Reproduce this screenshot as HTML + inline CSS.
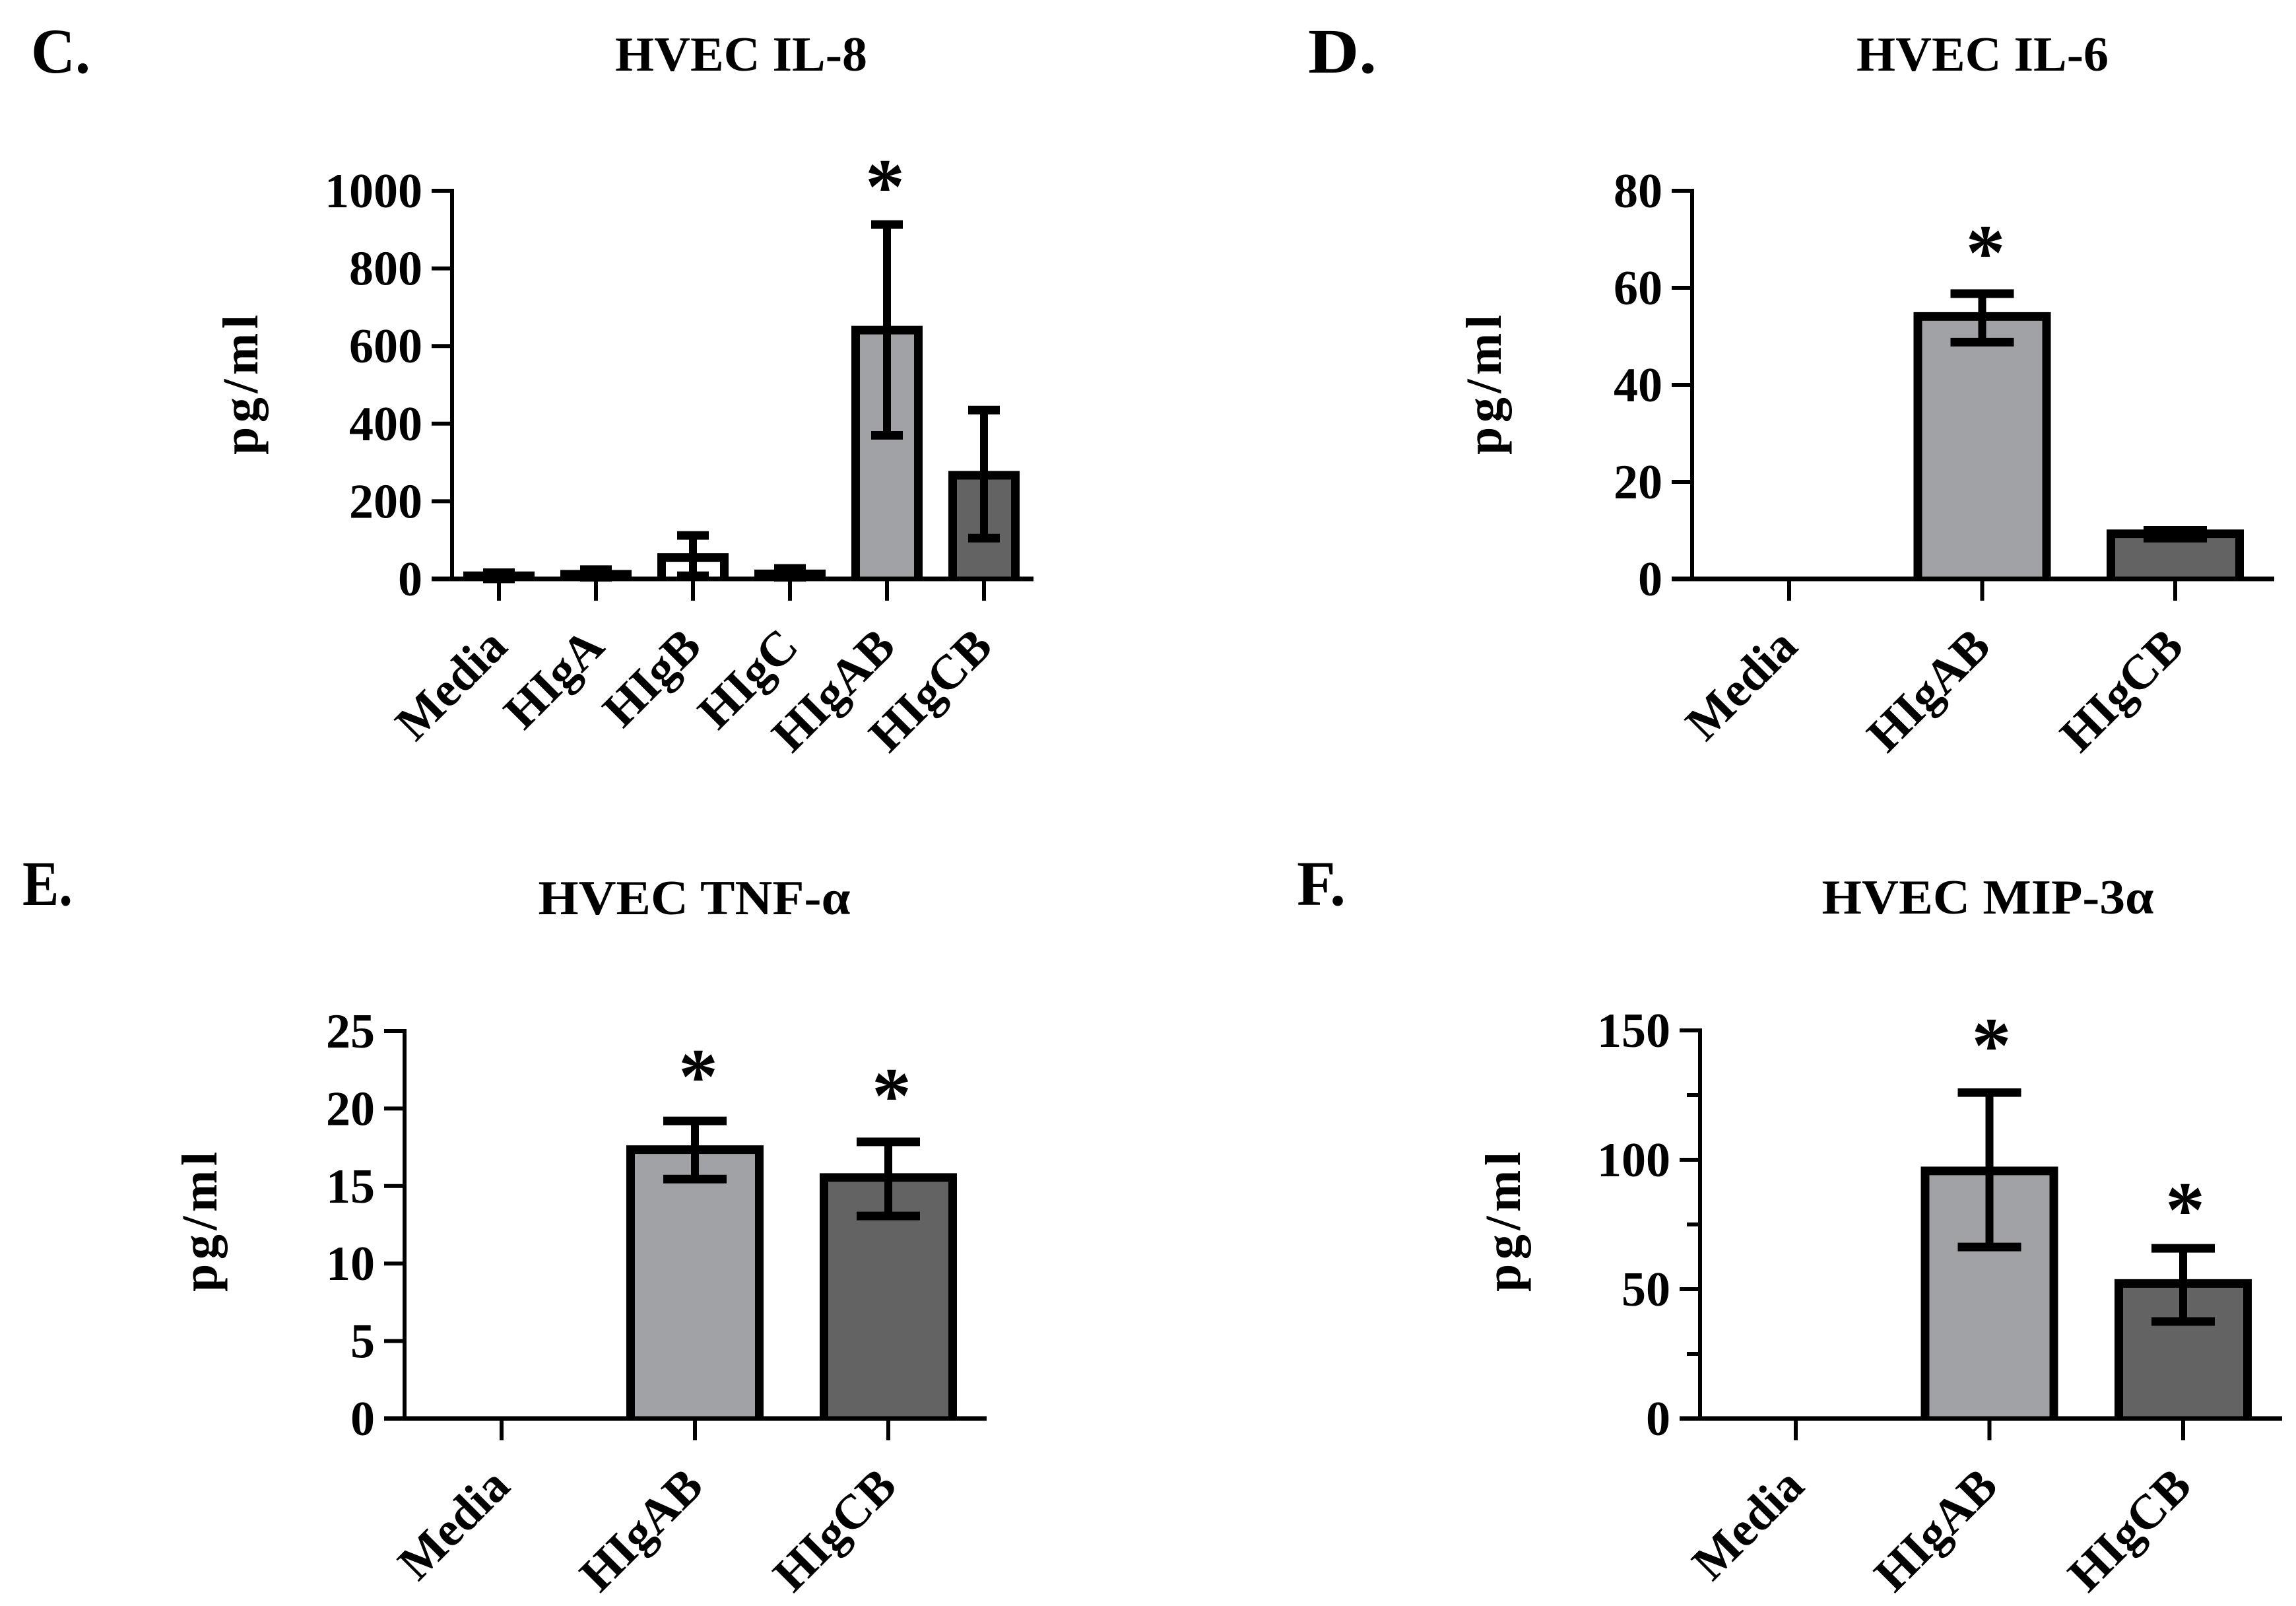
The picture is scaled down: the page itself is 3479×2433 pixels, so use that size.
<!DOCTYPE html>
<html lang="en">
<head>
<meta charset="utf-8">
<title>HVEC cytokine responses</title>
<style>
  html, body { margin: 0; padding: 0; background: #fff; }
  svg { display: block; }
  text { font-family: "Liberation Serif", serif; font-weight: bold; fill: #000; }
  .panel-letter { font-size: 96px; }
  .title { font-size: 74px; text-anchor: middle; }
  .ylabel { font-size: 76px; text-anchor: middle; }
</style>
</head>
<body>
<svg id="fig" xmlns="http://www.w3.org/2000/svg" width="3479" height="2433" viewBox="0 0 3479 2433">
  <rect width="3479" height="2433" fill="#fff"/>

  <text class="panel-letter" x="47" y="110" textLength="90" lengthAdjust="spacingAndGlyphs">C.</text>
  <text class="title" x="1123" y="107" textLength="382" lengthAdjust="spacingAndGlyphs">HVEC IL-8</text>
  <text class="ylabel" transform="translate(390 583) rotate(-90)" textLength="212">pg/ml</text>

  <text class="panel-letter" x="1982" y="110" textLength="104" lengthAdjust="spacingAndGlyphs">D.</text>
  <text class="title" x="3004" y="107" textLength="382" lengthAdjust="spacingAndGlyphs">HVEC IL-6</text>
  <text class="ylabel" transform="translate(2274 583) rotate(-90)" textLength="212">pg/ml</text>

  <text class="panel-letter" x="34" y="1371" textLength="76" lengthAdjust="spacingAndGlyphs">E.</text>
  <text class="title" x="1052" y="1385" textLength="473" lengthAdjust="spacingAndGlyphs">HVEC TNF-α</text>
  <text class="ylabel" transform="translate(328 1851) rotate(-90)" textLength="212">pg/ml</text>

  <text class="panel-letter" x="1965" y="1371" textLength="74" lengthAdjust="spacingAndGlyphs">F.</text>
  <text class="title" x="3012" y="1384" textLength="503" lengthAdjust="spacingAndGlyphs">HVEC MIP-3α</text>
  <text class="ylabel" transform="translate(2303 1851) rotate(-90)" textLength="212">pg/ml</text>
</svg>
<script>
// Panel C: IL-8
const cCategories = ["Media", "HIgA", "HIgB", "HIgC", "HIgAB", "HIgCB"];
const cValues = [8, 12, 55, 13, 641, 267];
const cErrHigh = [16, 24, 112, 27, 913, 435];
const cErrLow = [0, 4, 8, 4, 370, 105];
const cStars = [0, 0, 0, 0, 1, 0];
const cTicks = [0, 200, 400, 600, 800, 1000];
const cMinorTicks = [];

// Panel D: IL-6
const dCategories = ["Media", "HIgAB", "HIgCB"];
const dValues = [0, 54.1, 9.3];
const dErrHigh = [0, 58.8, 10];
const dErrLow = [0, 48.8, 8.4];
const dStars = [0, 1, 0];
const dTicks = [0, 20, 40, 60, 80];
const dMinorTicks = [];

// Panel E: TNF-alpha
const eCategories = ["Media", "HIgAB", "HIgCB"];
const eValues = [0, 17.35, 15.55];
const eErrHigh = [0, 19.2, 17.85];
const eErrLow = [0, 15.45, 13.07];
const eStars = [0, 1, 1];
const eTicks = [0, 5, 10, 15, 20, 25];
const eMinorTicks = [];

// Panel F: MIP-3alpha
const fCategories = ["Media", "HIgAB", "HIgCB"];
const fValues = [0, 95.7, 52.2];
const fErrHigh = [0, 126, 65.8];
const fErrLow = [0, 66.3, 37.5];
const fStars = [0, 1, 1];
const fTicks = [0, 50, 100, 150];
const fMinorTicks = [25, 75, 125];

const fills = { "Media": "#ffffff", "HIgA": "#ffffff", "HIgB": "#ffffff", "HIgC": "#ffffff", "HIgAB": "#a1a2a6", "HIgCB": "#636363" };
const SVG_NS = "http://www.w3.org/2000/svg";
const fig = document.getElementById("fig");

function make(tag, attrs, parent) {
  const node = document.createElementNS(SVG_NS, tag);
  for (const k in attrs) node.setAttribute(k, attrs[k]);
  parent.appendChild(node);
  return node;
}

function drawPanel(id, cats, vals, hi, lo, stars, ticks, minor, g) {
  const group = make("g", {}, fig);
  
  
  const yMax = ticks[ticks.length - 1];
  const y = v => g.y0 - (v / yMax) * (g.y0 - g.yTop);
  const x = i => g.x0 + i * g.step;

  cats.forEach((cat, i) => {
    if (vals[i] <= 0) return;
    const half = (g.barW - 13) / 2;
    const bar = make("path", {
      d: "M" + (x(i) - half) + " " + y(0) + "V" + y(vals[i]) + "H" + (x(i) + half) + "V" + y(0),
      fill: fills[cat], stroke: "#000", "stroke-width": 13, "stroke-linejoin": "miter"
    }, group);
    
    
  });

  // axes
  const yAxis = make("line", { x1: g.axisX, x2: g.axisX, y1: y(yMax) - 3, y2: y(0) + 3, stroke: "#000", "stroke-width": 6 }, group);
  
  
  const xAxis = make("line", { x1: g.axisX - 31, x2: g.axisEnd, y1: y(0), y2: y(0), stroke: "#000", "stroke-width": 7 }, group);
  
  

  ticks.forEach(t => {
    const tick = make("line", { x1: g.axisX - 31, x2: g.axisX, y1: y(t), y2: y(t), stroke: "#000", "stroke-width": 6 }, group);
    
    
    const label = make("text", { x: g.axisX - 45, y: y(t) + 25, "text-anchor": "end", "font-size": 74 }, group);
    label.textContent = t;
    
    
  });
  minor.forEach(t => {
    const tick = make("line", { x1: g.axisX - 20, x2: g.axisX, y1: y(t), y2: y(t), stroke: "#000", "stroke-width": 6 }, group);
    
    
  });

  cats.forEach((cat, i) => {
    const tick = make("line", { x1: x(i), x2: x(i), y1: y(0), y2: y(0) + 33, stroke: "#000", "stroke-width": 6 }, group);
    
    
    const label = make("text", { transform: "translate(" + (x(i) + 16) + " " + (y(0) + 106) + ") rotate(-45)", "text-anchor": "end", "font-size": 74 }, group);
    label.textContent = cat;
    
    
  });

  cats.forEach((cat, i) => {
    if (vals[i] <= 0) return;
    const capHalf = g.capW / 2;
    const stem = make("line", { x1: x(i), x2: x(i), y1: y(hi[i]), y2: y(lo[i]), stroke: "#000", "stroke-width": 12 }, group);
    
    
    const capTop = make("line", { x1: x(i) - capHalf, x2: x(i) + capHalf, y1: y(hi[i]), y2: y(hi[i]), stroke: "#000", "stroke-width": 13 }, group);
    
    
    const capLow = make("line", { x1: x(i) - capHalf, x2: x(i) + capHalf, y1: y(lo[i]), y2: y(lo[i]), stroke: "#000", "stroke-width": 13 }, group);
    
    

    if (stars[i]) {
      const lift = g.starLift[i];
      const star = make("text", { x: x(i) + g.starDx, y: y(hi[i]) - lift + 58, "text-anchor": "middle", "font-size": 120 }, group);
      star.textContent = "*";
      
      
    }
  });
}

drawPanel("c", cCategories, cValues, cErrHigh, cErrLow, cStars, cTicks, cMinorTicks,
  { axisX: 685, axisEnd: 1566, y0: 877, yTop: 289, x0: 756, step: 147, barW: 108, capW: 48, starDx: -3, starLift: { 4: 75 } });
drawPanel("d", dCategories, dValues, dErrHigh, dErrLow, dStars, dTicks, dMinorTicks,
  { axisX: 2564, axisEnd: 3446, y0: 877, yTop: 289, x0: 2711, step: 292.5, barW: 208, capW: 96, starDx: 5, starLift: { 1: 80 } });
drawPanel("e", eCategories, eValues, eErrHigh, eErrLow, eStars, eTicks, eMinorTicks,
  { axisX: 613, axisEnd: 1495, y0: 2149, yTop: 1562, x0: 760, step: 293, barW: 208, capW: 96, starDx: 5, starLift: { 1: 85, 2: 88 } });
drawPanel("f", fCategories, fValues, fErrHigh, fErrLow, fStars, fTicks, fMinorTicks,
  { axisX: 2576, axisEnd: 3458, y0: 2149, yTop: 1561, x0: 2721, step: 293.5, barW: 208, capW: 96, starDx: 3, starLift: { 1: 89, 2: 76 } });
</script>
</body>
</html>
